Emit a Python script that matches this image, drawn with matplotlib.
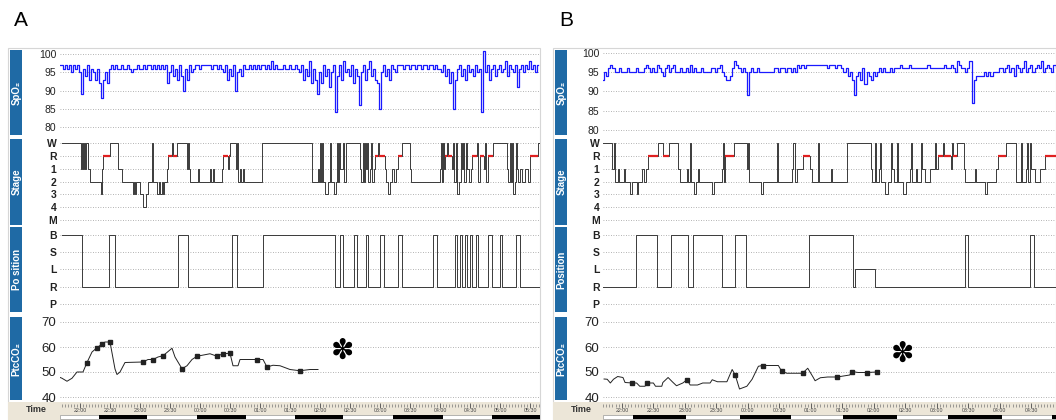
import numpy as np
import matplotlib.pyplot as plt
from matplotlib.patches import Rectangle

plt.rcParams['font.family'] = ['Liberation Sans', 'DejaVu Sans']

# ---------------- data (times = minutes after 21:00) ----------------
stage_names = ['W', 'R', '1', '2', '3', '4', 'M']
pos_names = ['B', 'S', 'L', 'R', 'P']

# panel A -- SpO2 sampled every 2 min from 21:40
spo2_a = [97, 97, 96, 97, 96, 97, 95, 97, 96, 97,
          95, 89, 96, 94, 97, 93, 96, 95, 93, 96,
          92, 88, 93, 95, 92, 96, 97, 96, 97, 96,
          96, 97, 96, 96, 97, 96, 95, 96, 96, 97,
          96, 96, 97, 96, 97, 97, 96, 97, 96, 97,
          96, 97, 96, 97, 92, 95, 97, 94, 96, 93,
          97, 94, 90, 96, 93, 97, 95, 96, 97, 97,
          96, 97, 97, 97, 97, 97, 96, 97, 97, 96,
          97, 96, 95, 97, 93, 96, 94, 97, 90, 95,
          96, 94, 97, 96, 96, 97, 96, 97, 96, 97,
          96, 97, 97, 96, 97, 96, 98, 96, 97, 96,
          96, 96, 97, 96, 96, 97, 96, 96, 97, 96,
          95, 97, 93, 96, 94, 98, 92, 96, 93, 89,
          95, 92, 97, 94, 96, 91, 95, 97, 84, 94,
          97, 93, 98, 95, 96, 94, 97, 92, 96, 94,
          86, 95, 97, 93, 96, 98, 94, 96, 93, 92,
          85, 95, 97, 94, 96, 93, 97, 96, 95, 97,
          97, 97, 96, 97, 97, 96, 97, 97, 96, 97,
          97, 96, 97, 97, 96, 97, 97, 96, 97, 96,
          96, 95, 97, 94, 96, 92, 95, 85, 93, 96,
          97, 94, 96, 93, 97, 95, 96, 94, 97, 95,
          96, 84, 101, 95, 97, 93, 96, 97, 94, 96,
          97, 95, 96, 98, 94, 97, 96, 95, 97, 91,
          96, 97, 95, 97, 96, 98, 96, 97, 95, 97]

stage_a_t = [42, 61, 62, 63, 64, 65, 66, 68, 70, 81, 82, 83, 90, 98, 102, 113, 114, 115, 116,
             120, 123, 126, 128, 132, 133, 137, 139, 140, 142, 143, 144, 147, 148, 152, 153,
             157, 167, 168, 169, 170, 178, 179, 190, 191, 193, 194, 202, 203, 208, 209, 210,
             216, 217, 218, 220, 221, 223, 224, 242, 292, 298, 299, 300, 301, 302, 303, 305,
             308, 310, 311, 314, 316, 317, 318, 319, 320, 323, 324, 326, 340, 341, 343, 344,
             345, 346, 347, 348, 350, 351, 352, 354, 355, 358, 359, 365, 366, 368, 370, 372,
             374, 376, 378, 382, 390, 391, 420, 421, 422, 423, 424, 425, 427, 428, 432, 433,
             434, 436, 437, 439, 441, 442, 443, 444, 446, 447, 449, 451, 452, 457, 458, 460,
             464, 465, 466, 468, 473, 487, 488, 490, 491, 492, 493, 495, 496, 497, 498, 500,
             502, 505, 508, 510, 518]
stage_a_v = ['W', '1', 'W', '1', 'W', '1', 'W', '1', '2', '3', '1', 'R', 'W', '1', '2', '3', '2', '3', '2',
             '3', '4', '3', '2', 'W', '2', '3', '2', '3', '2', '3', '2', '1', 'R', 'W', 'R',
             'W', '1', 'W', '1', '2', '1', '2', '1', '2', '1', '2', '1', 'R', '1', 'R', 'W',
             '1', 'W', '2', '1', '2', '1', '2', 'W', '2', '1', '2', 'W', '2', 'W', '2', '3',
             '2', 'W', '2', '3', '2', 'W', '2', 'W', '1', 'W', '2', 'W', '1', '2', 'W', '2',
             'W', '1', 'W', '2', '1', 'W', '2', '1', 'R', 'W', 'R', '1', '2', '3', '2', '1',
             '2', '1', 'R', 'W', '1', '2', '1', 'W', '2', 'W', '1', 'R', 'W', 'R', '1', 'W',
             '2', 'W', '3', '2', 'W', '1', 'W', '2', 'W', '1', '2', '1', 'R', 'W', '2', 'R',
             '1', 'W', '2', 'R', 'W', '1', '2', 'W', '2', 'W', '3', '2', 'W', '1', '2', '1',
             '2', '1', '2', 'R', 'W']

pos_a_t = [42, 62, 89, 95, 158, 168, 212, 217, 243, 315, 320, 323, 334, 337, 346, 348, 360, 364,
           378, 382, 413, 417, 435, 437, 440, 442, 445, 447, 450, 452, 456, 458, 468, 472,
           480, 482, 496, 500]
pos_a_v = ['B', 'R', 'B', 'R', 'B', 'R', 'B', 'R', 'B', 'R', 'B', 'R', 'B', 'R', 'B', 'R', 'B', 'R',
           'B', 'R', 'B', 'R', 'B', 'R', 'B', 'R', 'B', 'R', 'B', 'R', 'B', 'R', 'B', 'R',
           'B', 'R', 'B', 'R']

co2_a_t = [39, 42, 47, 52, 57, 63, 67, 72, 77, 82, 85, 90, 95, 97, 100, 105, 123, 128, 133, 138,
           143, 152, 155, 162, 167, 172, 177, 190, 197, 203, 210, 213, 218, 220, 227, 237,
           243, 247, 253, 260, 270, 280, 290, 298]
co2_a_v = [48, 47.5, 46.3, 47.5, 50, 50, 53.8, 58, 59.7, 61.2, 62, 62, 51.2, 49, 50, 53.8, 54, 55,
           55, 56, 56.5, 59.5, 56, 51.3, 52.5, 55, 56.3, 57.3, 56.3, 57.3, 57.5, 52.5, 52.5, 55,
           55, 55, 55, 52, 52.7, 52.5, 51, 50.5, 51, 51]
co2_a_marks = [6, 8, 9, 11, 16, 18, 20, 23, 26, 28, 29, 30, 35, 37, 41]

bars_a = [(79, 127), (177, 226), (275, 323), (373, 423), (472, 520)]

# panel B -- SpO2 sampled every 2 min from 21:42
spo2_b = [93, 95, 94, 96, 97, 96, 95, 95, 96, 95,
          95, 95, 96, 95, 95, 95, 96, 95, 95, 95,
          96, 97, 96, 95, 96, 95, 97, 96, 95, 94,
          96, 97, 95, 96, 97, 95, 95, 96, 95, 95,
          96, 95, 97, 95, 96, 95, 95, 96, 95, 95,
          95, 95, 96, 96, 95, 96, 97, 95, 94, 93,
          93, 94, 96, 98, 97, 96, 95, 96, 95, 89,
          95, 96, 95, 95, 96, 95, 95, 95, 95, 95,
          95, 95, 96, 96, 95, 96, 96, 95, 96, 96,
          95, 96, 95, 97, 96, 97, 96, 97, 97, 97,
          97, 97, 97, 97, 97, 97, 97, 96, 97, 97,
          97, 96, 97, 97, 96, 95, 96, 94, 95, 93,
          89, 94, 95, 93, 96, 92, 95, 94, 93, 95,
          94, 95, 96, 95, 96, 95, 95, 96, 95, 96,
          96, 96, 97, 96, 96, 96, 97, 96, 96, 96,
          96, 96, 96, 96, 96, 97, 96, 96, 96, 96,
          96, 96, 96, 97, 96, 96, 97, 96, 95, 98,
          97, 96, 96, 95, 96, 98, 87, 93, 94, 94,
          94, 94, 95, 94, 95, 94, 95, 95, 95, 96,
          96, 95, 96, 97, 95, 96, 94, 97, 96, 95,
          96, 98, 95, 96, 97, 95, 96, 97, 96, 98,
          95, 96, 97, 96, 95, 97, 96, 96, 97, 96]

stage_b_t = [42, 51, 52, 53, 56, 57, 62, 63, 68, 70, 74, 75, 79, 81, 83, 85, 94, 99, 105, 113,
             115, 122, 123, 125, 126, 129, 131, 132, 133, 146, 148, 155, 156, 157, 158, 167,
             179, 180, 181, 192, 194, 208, 209, 222, 223, 225, 227, 232, 239, 241, 247, 248,
             259, 260, 274, 297, 298, 301, 302, 305, 306, 307, 311, 313, 316, 317, 319, 322,
             323, 328, 331, 334, 335, 336, 340, 341, 345, 346, 349, 353, 358, 359, 361, 366,
             367, 373, 374, 375, 379, 386, 387, 396, 397, 406, 408, 416, 418, 426, 435, 440,
             441, 445, 446, 447, 449, 450, 453, 458, 463]
stage_b_v = ['W', '1', 'W', '2', '1', '2', '1', '2', '3', '2', '3', '2', '1', '2', '1', 'R', 'W', 'R', 'W', '1',
             '2', '1', '2', 'W', '2', '3', '2', '1', '2', '3', '2', '1', 'W', '2', 'R', 'W',
             '1', 'W', '2', '3', '2', 'W', '2', '1', 'W', '2', '1', 'R', '1', '2', 'W', '2',
             '1', '2', 'W', '1', '2', 'W', '2', '1', 'W', '2', '3', '2', 'W', '1', '2', 'W',
             '2', '3', '2', '1', 'W', '2', '1', '2', 'W', '1', '2', '1', 'W', '1', 'R', 'W',
             'R', '1', 'W', 'R', 'W', '1', '2', '1', '2', '3', '2', '1', 'R', 'W', '2', 'W',
             '2', '1', 'W', '2', 'W', '1', '2', '1', 'R']

pos_b_t = [42, 73, 93, 107, 123, 128, 155, 168, 178, 238, 280, 282, 301, 387, 390, 449, 452]
pos_b_v = ['R', 'B', 'R', 'B', 'R', 'B', 'R', 'B', 'R', 'B', 'R', 'L', 'R', 'B', 'R', 'B', 'R']

co2_b_t = [43, 46, 49, 52, 56, 61, 63, 70, 74, 77, 82, 84, 90, 92, 98, 99, 104, 108, 112, 118,
           122, 125, 132, 137, 144, 146, 151, 155, 160, 165, 168, 172, 179, 184, 190, 194, 209,
           212, 217, 232, 237, 242, 244, 249, 256, 265, 277, 279, 285, 293, 303]
co2_b_v = [47.2, 47.1, 45.6, 47.1, 48.2, 47.8, 45.8, 45.6, 45.6, 44.3, 44.3, 45.6, 45.6, 44.3,
           44.3, 45.8, 47.8, 46.1, 44.5, 45.6, 46.9, 44.8, 44.8, 45.6, 45.6, 46.9, 46.1, 46.1,
           46.1, 51, 48.7, 43.2, 44.3, 47.1, 52.3, 52.6, 52.6, 50.4, 49.5, 49.5, 51.5, 48, 46.5,
           47.7, 48, 48, 48.8, 50.2, 49.8, 49.8, 50]
co2_b_marks = [7, 11, 20, 30, 35, 37, 39, 45, 47, 49, 50]

bars_b = [(71, 121), (172, 221), (271, 322), (371, 422), (470, 474)]

# ---------------- drawing ----------------
W, H = 1056, 420
fig = plt.figure(figsize=(W / 100, H / 100), dpi=100)
BLUE = '#1f6aa5'
GRID = dict(color='#9a9a9a', linestyle=(0, (1, 2)), linewidth=0.6)


def px_axes(x0, y0, x1, y1):
    ax = fig.add_axes([x0 / W, 1 - y1 / H, (x1 - x0) / W, (y1 - y0) / H])
    for s in ax.spines.values():
        s.set_visible(False)
    ax.set_xticks([])
    ax.tick_params(axis='y', length=0, pad=2.5, colors='#222222')
    ax.patch.set_alpha(0)
    return ax


def px_rect(x0, y0, x1, y1, **kw):
    fig.add_artist(Rectangle((x0 / W, 1 - y1 / H), (x1 - x0) / W, (y1 - y0) / H,
                             transform=fig.transFigure, **kw))


def strip(x0, y0, y1, label):
    px_rect(x0, y0, x0 + 12, y1, facecolor=BLUE, edgecolor='none')
    fig.text((x0 + 6.5) / W, 1 - (y0 + y1) / 2 / H, label, rotation=90, color='white',
             ha='center', va='center', fontsize=7, fontweight='bold')


def stepline(ax, t, v, names, t_end):
    lv = [names.index(s) for s in v] + [names.index(v[-1])]
    tt = list(t) + [t_end]
    ax.step(tt, lv, where='post', color='#3a3a3a', lw=0.7)
    return tt, lv


def panel(xs, xl, xr, t0, t1, spo2, spo2_t0, spo2_lim, st_t, st_v, p_t, p_v, pos_label,
          c_t, c_v, c_marks, bars, letter, star_xy):
    fig.text((xs + 4) / W, 1 - 20 / H, letter, fontsize=15, va='center', ha='left')
    # frame and beige time band go behind the axes
    px_rect(xs - 2, 48, xr, 420, facecolor='none', edgecolor='#d6d6d6', lw=0.8, zorder=-2)
    px_rect(xs - 2, 402, xr, 420, facecolor='#ece6d8', edgecolor='none', zorder=-1)

    # SpO2
    ax = px_axes(xl, 48, xr, 136)
    ts = spo2_t0 + 2 * np.arange(len(spo2))
    ax.step(ts, spo2, where='mid', color='#1a1aff', lw=0.9)
    ax.set_ylim(*spo2_lim)
    ax.set_xlim(t0, t1)
    ax.set_yticks([100, 95, 90, 85, 80])
    ax.yaxis.grid(True, **GRID)
    ax.tick_params(labelsize=7.5)
    strip(xs, 50, 135, 'SpO₂')

    # Stage
    ax = px_axes(xl, 137, xr, 226)
    tt, lv = stepline(ax, st_t, st_v, stage_names, t1)
    for i in range(len(st_v)):
        if st_v[i] == 'R':
            ax.hlines(1, tt[i], tt[i + 1], color='#e02020', lw=1.6, zorder=3)
    ax.set_ylim(6.47, -0.47)
    ax.set_xlim(t0, t1)
    ax.set_yticks(range(7))
    ax.set_yticklabels(stage_names, fontsize=7.5, fontweight='bold')
    ax.yaxis.grid(True, **GRID)
    strip(xs, 139, 225, 'Stage')

    # Position
    ax = px_axes(xl, 227, xr, 313)
    stepline(ax, p_t, p_v, pos_names, t1)
    ax.set_ylim(4.52, -0.46)
    ax.set_xlim(t0, t1)
    ax.set_yticks(range(5))
    ax.set_yticklabels(pos_names, fontsize=7.5, fontweight='bold')
    ax.yaxis.grid(True, **GRID)
    strip(xs, 227, 312, pos_label)

    # PtcCO2
    ax = px_axes(xl, 314, xr, 401)
    ax.plot(c_t, c_v, color='#222222', lw=0.7, marker='s', ms=2.6, markevery=c_marks)
    ax.set_ylim(38.4, 73.2)
    ax.set_xlim(t0, t1)
    ax.set_yticks([70, 60, 50, 40])
    ax.tick_params(labelsize=9.5)
    ax.yaxis.grid(True, **GRID)
    strip(xs, 317, 400, 'PtcCO₂')
    fig.text(star_xy[0] / W, 1 - star_xy[1] / H, '✽', fontsize=20, ha='center',
             va='center', color='black')

    # Time row
    fig.text((xs + 26) / W, 1 - 410 / H, 'Time', fontsize=6.5, fontweight='bold',
             ha='center', va='center', color='#333333')
    ax = px_axes(xl, 402, xr, 420)
    ax.set_yticks([])
    ax.set_xlim(t0, t1)
    ax.set_ylim(0, 1)
    minor = np.arange(np.ceil(t0 / 3) * 3, t1, 3)
    ax.vlines(minor, 0.74, 0.88, color='#777777', lw=0.5)
    major = np.arange(np.ceil(t0 / 30) * 30, t1, 30)
    ax.vlines(major, 0.66, 0.92, color='#555555', lw=0.6)
    for m in major:
        hh = (21 + int(m) // 60) % 24
        mm = int(m) % 60
        ax.text(m, 0.52, f'{hh:02d}:{mm:02d}', fontsize=3.8, ha='center', va='center',
                color='#444444')
    ax.add_patch(Rectangle((t0, 0.04), t1 - t0, 0.26, facecolor='white',
                           edgecolor='#999999', lw=0.5))
    for a, b in bars:
        ax.add_patch(Rectangle((a, 0.04), b - a, 0.26, facecolor='black', edgecolor='none'))


panel(10, 60, 540, 40, 520, spo2_a, 40, (77.5, 101.7), stage_a_t, stage_a_v,
      pos_a_t, pos_a_v, 'Po sition', co2_a_t, co2_a_v, co2_a_marks, bars_a, 'A', (342, 352))
panel(555, 603, 1056, 42, 42 + 453 / 1.05, spo2_b, 42, (78.4, 101.3), stage_b_t, stage_b_v,
      pos_b_t, pos_b_v, 'Position', co2_b_t, co2_b_v, co2_b_marks, bars_b, 'B', (902, 355))

fig.savefig('out.png', dpi=100)
